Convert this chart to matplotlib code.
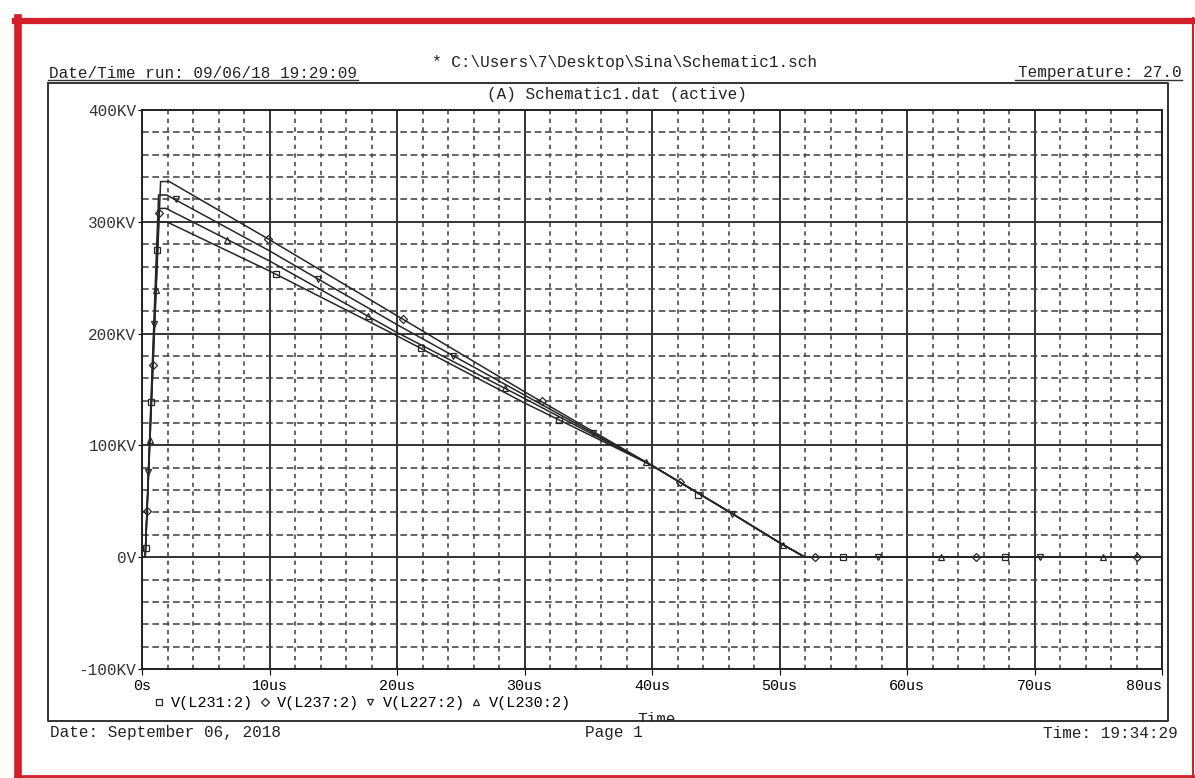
import matplotlib.pyplot as plt
from matplotlib.lines import Line2D
from matplotlib.transforms import Bbox, TransformedBbox
import numpy as np

# traces (time in us, voltage in KV)
t_l231 = [0, 0.25, 1.27, 1.93, 10, 20, 30, 40, 46, 50, 52, 62, 78]
v_l231 = [0, 0, 300, 300, 256, 198, 138, 82, 41, 13, 0, 0, 0]
t_l237 = [0, 0.25, 1.46, 2.14, 10, 20, 30, 40, 46, 50, 52, 62, 78]
v_l237 = [0, 0, 336, 336, 284, 216, 148, 82, 41, 13, 0, 0, 0]
t_l227 = [0, 0.25, 1.30, 1.93, 10, 20, 30, 40, 46, 50, 52, 62, 78]
v_l227 = [0, 0, 324, 324, 274, 208, 145, 82, 41, 13, 0, 0, 0]
t_l230 = [0, 0.25, 1.35, 1.88, 10, 20, 30, 40, 46, 50, 52, 62, 78]
v_l230 = [0, 0, 312, 312, 265, 201, 142, 82, 41, 13, 0, 0, 0]

# marker positions on each trace
mt_l231 = [0.28, 0.72, 1.19, 10.5, 21.9, 32.7, 43.6, 55.0, 67.7]
mv_l231 = [8, 139, 275, 253, 187, 123, 56, 0, 0]
mt_l237 = [0.40, 0.87, 1.36, 9.9, 20.5, 31.4, 42.2, 52.8, 65.4, 78.0]
mv_l237 = [41, 172, 308, 285, 213, 140, 67, 0, 0, 0]
mt_l227 = [0.50, 0.93, 2.7, 13.8, 24.4, 35.4, 46.3, 57.7, 70.4]
mv_l227 = [76, 209, 320, 249, 180, 111, 39, 0, 0]
mt_l230 = [0.62, 1.09, 6.7, 17.7, 28.5, 39.5, 50.3, 62.7, 75.4]
mv_l230 = [105, 239, 284, 216, 151, 85, 11, 0, 0]

x_ticks = [0, 10, 20, 30, 40, 50, 60, 70, 80]
x_labels = ['0s', '10us', '20us', '30us', '40us', '50us', '60us', '70us', '80us']
y_ticks = [-100, 0, 100, 200, 300, 400]
y_labels = ['-100KV', '0V', '100KV', '200KV', '300KV', '400KV']

W, H = 1195, 778
mono = 'Liberation Mono'
plt.rcParams['font.family'] = [mono, 'DejaVu Sans Mono', 'DejaVu Sans']

fig = plt.figure(figsize=(W / 100, H / 100), dpi=100)


def fx(px):
    return px / W


def fy(py):
    return 1 - py / H


ax = fig.add_axes([fx(142), fy(669), fx(1162) - fx(142), fy(110) - fy(669)])

series = [
    (t_l231, v_l231, mt_l231, mv_l231, 's', 'V(L231:2)'),
    (t_l237, v_l237, mt_l237, mv_l237, 'D', 'V(L237:2)'),
    (t_l227, v_l227, mt_l227, mv_l227, 'v', 'V(L227:2)'),
    (t_l230, v_l230, mt_l230, mv_l230, '^', 'V(L230:2)'),
]
handles = []
for t, v, mt, mv, mk, lab in series:
    ax.plot(t, v, color='#262626', lw=1.1, zorder=3)
    ms = 4.0 if mk == 'D' else 5.0
    h, = ax.plot(mt, mv, ls='none', marker=mk, ms=ms, mfc='none',
                 mec='#262626', mew=0.9, zorder=4, label=lab)
    handles.append(h)

ax.set_xlim(0, 80)
ax.set_ylim(-100, 400)
ax.set_xticks(x_ticks)
ax.set_xticklabels(x_labels, fontsize=10.8, family=mono)
ax.set_xticks(np.arange(0, 81, 2), minor=True)
ax.set_yticks(y_ticks)
ax.set_yticklabels(y_labels, fontsize=11.5, family=mono, color='#333333')
ax.set_yticks(np.arange(-100, 401, 20), minor=True)
ax.get_xticklabels()[-1].set_ha('right')

ax.tick_params(axis='x', which='major', length=4, pad=3, direction='out')
ax.tick_params(axis='y', which='major', length=3, pad=1, direction='out')
ax.tick_params(which='minor', length=0)

ax.grid(which='major', color='#333333', lw=1.4, ls='-')
ax.grid(which='minor', axis='y', color='#4a4a4a', lw=1.2, ls=(0, (4.0, 2.2)))
ax.grid(which='minor', axis='x', color='#4a4a4a', lw=1.2, ls=(0, (2.6, 2.6)))
ax.set_axisbelow(True)
for s in ax.spines.values():
    s.set_color('#222222')
    s.set_linewidth(1.4)

fig.legend(handles=handles, loc='upper left', bbox_to_anchor=(fx(155), fy(696)),
           ncol=4, frameon=False, handlelength=0.5, handletextpad=0.55,
           columnspacing=0.5, borderaxespad=0, borderpad=0,
           prop={'family': mono, 'size': 11})

# page header / footer texts
tk = dict(family=mono, fontsize=11.5, color='#222222')
fig.text(fx(625), fy(62), '* C:\\Users\\7\\Desktop\\Sina\\Schematic1.sch',
         ha='center', va='center', **tk)
fig.text(fx(49), fy(73), 'Date/Time run: 09/06/18 19:29:09', ha='left', va='center', **tk)
fig.text(fx(1182), fy(73), 'Temperature: 27.0', ha='right', va='center', **tk)
fig.text(fx(617), fy(94), '(A) Schematic1.dat (active)', ha='center', va='center', **tk)
fig.text(fx(50), fy(733), 'Date: September 06, 2018', ha='left', va='center', **tk)
fig.text(fx(585), fy(733), 'Page 1', ha='left', va='center', **tk)
fig.text(fx(1178), fy(733), 'Time: 19:34:29', ha='right', va='center', **tk)

time_lbl = fig.text(fx(657), fy(719), 'Time', ha='center', va='center', **tk)
time_lbl.set_clip_box(TransformedBbox(Bbox([[0, fy(721)], [1, 1]]), fig.transFigure))
time_lbl.set_clip_on(True)

# underlines
for x0, x1 in [(48, 358), (1015, 1182)]:
    fig.add_artist(Line2D([fx(x0), fx(x1)], [fy(80), fy(80)], color='#333333',
                          lw=1.0, transform=fig.transFigure))

# page frame
px_ = [48, 1168, 1168, 48, 48]
py_ = [83, 83, 721, 721, 83]
fig.add_artist(Line2D([fx(p) for p in px_], [fy(p) for p in py_], color='#333333',
                      lw=1.4, transform=fig.transFigure))

# red border
red = '#d41e28'
fig.add_artist(Line2D([fx(18), fx(18)], [fy(18), fy(778)], color=red, lw=5.5,
                      transform=fig.transFigure))
fig.add_artist(Line2D([fx(15), fx(1195)], [fy(21), fy(21)], color=red, lw=4.5,
                      transform=fig.transFigure))
fig.add_artist(Line2D([fx(1193), fx(1193)], [fy(18), fy(778)], color=red, lw=1.5,
                      transform=fig.transFigure))
fig.add_artist(Line2D([fx(15), fx(1195)], [fy(776), fy(776)], color=red, lw=2.0,
                      transform=fig.transFigure))

fig.savefig('out.png', dpi=100, facecolor='white')
